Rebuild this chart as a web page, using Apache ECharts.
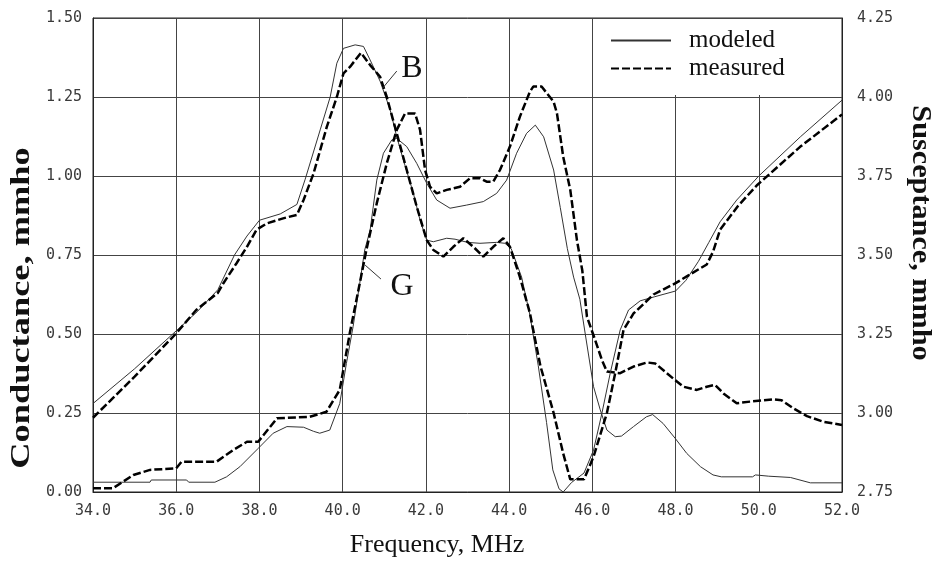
<!DOCTYPE html>
<html>
<head>
<meta charset="utf-8">
<script src="https://cdn.jsdelivr.net/npm/echarts/dist/echarts.min.js"></script>
<style>html,body{margin:0;padding:0;background:#fff}#c{width:940px;height:564px}</style>
</head>
<body>
<div id="c"></div>
<script>
// Conductance G (left axis, mmho)
const gModFreq = [34.0,35.37,35.4,36.25,36.3,36.93,37.21,37.53,37.97,38.33,38.66,39.06,39.3,39.45,39.69,39.93,40.09,40.25,40.41,40.53,40.66,40.82,40.98,41.18,41.3,41.54,41.78,42.02,42.26,42.58,42.98,43.38,43.7,43.94,44.18,44.42,44.63,44.83,45.07,45.23,45.4,45.55,45.7,45.83,46.03,46.19,46.35,46.55,46.7,46.99,47.3,47.45,47.7,47.99,48.27,48.6,48.9,49.1,49.85,49.92,50.24,50.76,51.24,52.0];
const gModVal  = [0.031,0.031,0.038,0.038,0.031,0.031,0.048,0.080,0.138,0.186,0.207,0.205,0.192,0.186,0.196,0.280,0.407,0.523,0.660,0.766,0.829,0.987,1.072,1.114,1.119,1.093,1.040,0.977,0.924,0.898,0.908,0.919,0.945,0.987,1.072,1.135,1.161,1.124,1.019,0.900,0.770,0.680,0.610,0.500,0.333,0.260,0.196,0.175,0.177,0.207,0.238,0.245,0.217,0.170,0.122,0.080,0.054,0.048,0.048,0.054,0.050,0.046,0.029,0.029];

const gMeasFreq = [34.0,34.48,34.97,35.37,36.0,36.13,36.97,37.37,37.7,37.97,38.42,39.21,39.61,39.93,40.17,40.41,40.57,40.82,41.06,41.3,41.5,41.74,41.86,41.98,42.1,42.26,42.5,42.82,43.06,43.3,43.46,43.62,43.78,44.02,44.26,44.5,44.58,44.78,45.07,45.15,45.3,45.47,45.63,45.76,45.87,46.07,46.23,46.35,46.67,46.99,47.31,47.51,47.79,47.99,48.19,48.51,48.75,48.95,49.15,49.47,49.79,50.35,50.55,50.83,51.16,51.56,52.0];
const gMeasVal  = [0.012,0.012,0.054,0.070,0.075,0.096,0.096,0.133,0.159,0.159,0.233,0.238,0.254,0.323,0.502,0.660,0.766,0.914,1.040,1.146,1.198,1.198,1.146,1.019,0.966,0.945,0.956,0.966,0.993,0.993,0.982,0.982,1.019,1.093,1.188,1.267,1.283,1.283,1.235,1.198,1.061,0.956,0.797,0.700,0.555,0.480,0.418,0.381,0.376,0.397,0.410,0.407,0.376,0.354,0.333,0.323,0.333,0.339,0.312,0.281,0.286,0.293,0.290,0.265,0.240,0.222,0.212];

// Susceptance B (right axis, mmho)
const bModFreq = [34.0,35.0,36.0,36.5,37.0,37.4,37.7,38.0,38.5,38.9,39.1,39.46,39.7,39.86,40.02,40.3,40.5,40.66,40.9,41.14,41.3,41.46,41.7,41.86,42.02,42.18,42.5,42.7,43.0,43.3,43.7,43.9,44.05,44.3,44.5,44.7,44.9,45.05,45.2,45.3,45.5,45.8,46.03,46.23,46.43,46.67,46.87,47.15,47.5,48.0,48.25,48.55,48.8,49.07,49.47,50.0,51.0,52.0];
const bModVal  = [3.030,3.140,3.260,3.320,3.390,3.500,3.560,3.610,3.630,3.660,3.740,3.896,4.000,4.107,4.154,4.165,4.160,4.117,4.050,3.960,3.874,3.800,3.695,3.610,3.547,3.542,3.553,3.550,3.540,3.537,3.540,3.537,3.520,3.430,3.310,3.150,2.970,2.820,2.760,2.750,2.780,2.810,2.883,2.999,3.126,3.263,3.326,3.355,3.368,3.386,3.420,3.480,3.540,3.605,3.674,3.750,3.874,3.990];

const bMeasFreq = [34.0,35.0,36.0,36.48,37.0,37.13,37.45,37.7,37.93,38.18,38.57,38.9,39.06,39.3,39.62,39.86,40.02,40.18,40.44,40.66,40.9,41.06,41.3,41.54,41.78,42.02,42.18,42.42,42.66,42.9,43.14,43.38,43.62,43.86,44.02,44.26,44.5,44.75,45.07,45.3,45.47,45.8,46.03,46.35,46.55,46.75,46.99,47.47,47.99,48.43,48.75,48.9,49.07,49.5,49.95,51.0,52.0];
const bMeasVal  = [2.985,3.115,3.252,3.326,3.380,3.410,3.474,3.526,3.580,3.600,3.616,3.627,3.674,3.758,3.906,4.000,4.075,4.096,4.140,4.101,4.064,4.000,3.885,3.769,3.653,3.547,3.516,3.495,3.526,3.553,3.526,3.495,3.526,3.553,3.526,3.430,3.316,3.150,3.000,2.872,2.790,2.790,2.862,3.000,3.126,3.263,3.315,3.375,3.410,3.445,3.470,3.510,3.580,3.655,3.720,3.843,3.945];

const legendNames = ['modeled', 'measured'];
const xTitle = 'Frequency, MHz';
const yLeftTitle = 'Conductance, mmho';
const yRightTitle = 'Susceptance, mmho';

const pairs = (f, v) => f.map((x, i) => [x, v[i]]);

const tickFont = { fontFamily: 'DejaVu Sans Mono', fontSize: 15, color: '#3a3a3a' };
const gridLine = { show: true, lineStyle: { color: '#444', width: 1 } };
const modStyle = { color: '#333', width: 1 };
const measStyle = { color: '#000', width: 2.5, type: [8, 3] };

const chart = echarts.init(document.getElementById('c'), null, { renderer: 'canvas' });
chart.setOption({
  animation: false,
  backgroundColor: '#fff',
  grid: { left: 93, right: 98, top: 18, bottom: 72, show: true, borderColor: '#222', borderWidth: 1, backgroundColor: 'transparent' },
  xAxis: {
    type: 'value', min: 34, max: 52, interval: 2,
    axisLine: { show: true, lineStyle: { color: '#222' } },
    axisTick: { show: false },
    axisLabel: Object.assign({ margin: 12, formatter: v => v.toFixed(1) }, tickFont),
    splitLine: gridLine
  },
  yAxis: [
    {
      type: 'value', min: 0, max: 1.5, interval: 0.25,
      axisLine: { show: true, lineStyle: { color: '#222' } },
      axisTick: { show: false },
      axisLabel: Object.assign({ margin: 11, formatter: v => v.toFixed(2) }, tickFont),
      splitLine: gridLine
    },
    {
      type: 'value', min: 2.75, max: 4.25, interval: 0.25, position: 'right',
      axisLine: { show: true, lineStyle: { color: '#222' } },
      axisTick: { show: false },
      axisLabel: Object.assign({ margin: 15, formatter: v => v.toFixed(2) }, tickFont),
      splitLine: { show: false }
    }
  ],
  legend: {
    data: legendNames,
    orient: 'vertical',
    left: 598, top: 19,
    padding: [9, 52, 14, 12],
    itemGap: 3,
    itemWidth: 60, itemHeight: 14,
    backgroundColor: '#fff',
    selectedMode: false,
    itemStyle: { opacity: 0 },
    textStyle: { fontFamily: 'Liberation Serif', fontSize: 25, color: '#111', padding: [0, 0, 0, 13] }
  },
  series: [
    {
      name: 'modeled', type: 'line', yAxisIndex: 0, symbol: 'none', showSymbol: false,
      data: pairs(gModFreq, gModVal), lineStyle: modStyle, itemStyle: { color: '#333' },
      markLine: { silent: true, symbol: 'none', label: { show: false },
        lineStyle: { color: '#333', width: 1, type: 'solid' },
        data: [[{ coord: [40.54, 0.718] }, { coord: [40.92, 0.674] }]] }
    },
    {
      name: 'measured', type: 'line', yAxisIndex: 0, symbol: 'none', showSymbol: false,
      data: pairs(gMeasFreq, gMeasVal), lineStyle: measStyle, itemStyle: { color: '#000' }
    },
    {
      name: 'modeled', type: 'line', yAxisIndex: 1, symbol: 'none', showSymbol: false,
      data: pairs(bModFreq, bModVal), lineStyle: modStyle, itemStyle: { color: '#333' },
      markLine: { silent: true, symbol: 'none', label: { show: false },
        lineStyle: { color: '#333', width: 1, type: 'solid' },
        data: [[{ coord: [40.96, 4.028] }, { coord: [41.3, 4.082] }]] }
    },
    {
      name: 'measured', type: 'line', yAxisIndex: 1, symbol: 'none', showSymbol: false,
      data: pairs(bMeasFreq, bMeasVal), lineStyle: measStyle, itemStyle: { color: '#000' }
    }
  ],
  graphic: [
    { type: 'text', x: 437, y: 545, style: { text: xTitle, font: '26px "Liberation Serif"', fill: '#111', align: 'center', verticalAlign: 'middle' } },
    { type: 'text', x: 22, y: 308, rotation: Math.PI / 2, scaleX: 1.3, style: { text: yLeftTitle, font: 'bold 28px "Liberation Serif"', fill: '#111', align: 'center', verticalAlign: 'middle' } },
    { type: 'text', x: 920, y: 233, rotation: -Math.PI / 2, scaleX: 1.12, style: { text: yRightTitle, font: 'bold 27px "Liberation Serif"', fill: '#111', align: 'center', verticalAlign: 'middle' } },
    { type: 'text', x: 412, y: 69, style: { text: 'B', font: '32px "Liberation Serif"', fill: '#111', align: 'center', verticalAlign: 'middle' } },
    { type: 'text', x: 402, y: 287, style: { text: 'G', font: '32px "Liberation Serif"', fill: '#111', align: 'center', verticalAlign: 'middle' } }
  ]
});
</script>
</body>
</html>
